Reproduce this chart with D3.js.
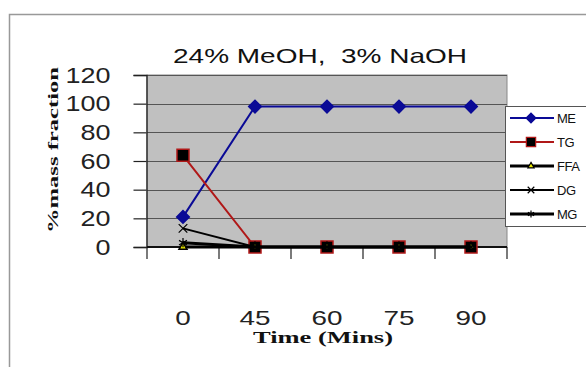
<!DOCTYPE html>
<html><head><meta charset="utf-8">
<script src="https://cdn.jsdelivr.net/npm/d3@7"></script>
<style>body{margin:0;background:#fff}svg{display:block}</style>
</head><body>
<svg id="c" width="586" height="367"></svg>
<script>
const categories = ["0", "45", "60", "75", "90"];
const yTicks = [0, 20, 40, 60, 80, 100, 120];
const seriesNames = ["ME", "TG", "FFA", "DG", "MG"];
const ME  = [21, 98, 98, 98, 98];
const TG  = [64, 0, 0, 0, 0];
const FFA = [0, 0, 0, 0, 0];
const DG  = [13, 0, 0, 0, 0];
const MG  = [3, 0, 0, 0, 0];
const titleText = "24% MeOH,  3% NaOH";
const xTitle = "Time (Mins)";
const yTitle = "%mass fraction";

const svg = d3.select("#c");
const L = 147, R = 507, T = 75, B = 247;
const x = d3.scaleBand().domain(categories).range([L, R]).padding(0);
const y = d3.scaleLinear().domain([0, 120]).range([B, T]);
const cx = c => x(c) + x.bandwidth() / 2;

// outer frame
svg.append("rect").attr("x", 9.5).attr("y", 14.5).attr("width", 620).attr("height", 400)
  .attr("fill", "#fff").attr("stroke", "#999").attr("stroke-width", 1.5);

// plot area
svg.append("rect").attr("x", L).attr("y", T).attr("width", R - L).attr("height", B - T)
  .attr("fill", "#c0c0c0").attr("stroke", "#888").attr("stroke-width", 1);

// gridlines
svg.append("g").selectAll("line").data(yTicks).join("line")
  .attr("x1", L).attr("x2", R).attr("y1", d => Math.round(y(d)) + 0.5).attr("y2", d => Math.round(y(d)) + 0.5)
  .attr("stroke", "#555").attr("stroke-width", 1);

// y axis
const ya = svg.append("g").attr("transform", `translate(${L - 0.5},0)`)
  .call(d3.axisLeft(y).tickValues(yTicks).tickSize(13).tickPadding(23).tickFormat(d3.format("d")));
ya.select(".domain").attr("stroke", "#222").attr("stroke-width", 1.3);
ya.selectAll(".tick line").attr("stroke", "#222").attr("stroke-width", 1.2);
ya.selectAll(".tick text").attr("font-family", "Liberation Sans, Arial, sans-serif")
  .attr("font-size", 22).attr("fill", "#222")
  .attr("textLength", d => String(d).length * 15).attr("lengthAdjust", "spacingAndGlyphs");

// x axis: labels at centers, ticks at boundaries
const xa = svg.append("g").attr("transform", `translate(0,${B})`)
  .call(d3.axisBottom(x).tickSize(0).tickPadding(63));
xa.select(".domain").remove();
xa.selectAll(".tick text").attr("font-family", "Liberation Sans, Arial, sans-serif")
  .attr("font-size", 21).attr("fill", "#222")
  .attr("textLength", d => d.length * 15.5).attr("lengthAdjust", "spacingAndGlyphs");
const bounds = categories.map(c => x(c)).concat([x.range()[1]]);
svg.append("g").selectAll("line").data(bounds).join("line")
  .attr("x1", d => d).attr("x2", d => d).attr("y1", B).attr("y2", B + 12)
  .attr("stroke", "#222").attr("stroke-width", 1.2);
svg.append("line").attr("x1", L).attr("x2", R).attr("y1", B).attr("y2", B)
  .attr("stroke", "#111").attr("stroke-width", 2);

// series
const series = [
  { name: "ME",  vals: ME,  color: "#0a0a96", width: 2,   sym: "diamond", fill: "#0a0a96", stroke: "#0a0a96", size: 80 },
  { name: "TG",  vals: TG,  color: "#b01818", width: 2,   sym: "square",  fill: "#000",    stroke: "#b01818", size: 144 },
  { name: "FFA", vals: FFA, color: "#000",    width: 3,   sym: "triangle",fill: "#e8e800", stroke: "#000", size: 28 },
  { name: "DG",  vals: DG,  color: "#000",    width: 2,   sym: "times",   fill: "none",    stroke: "#000", size: 50 },
  { name: "MG",  vals: MG,  color: "#000",    width: 3,   sym: "asterisk",fill: "none",    stroke: "#000", size: 60 }
];
function symPath(s) {
  const t = { diamond: d3.symbolSquare, square: d3.symbolSquare, triangle: d3.symbolTriangle,
    times: d3.symbolTimes || d3.symbolX || d3.symbolCross, asterisk: d3.symbolAsterisk || d3.symbolCross }[s.sym];
  return d3.symbol().type(t).size(s.size)();
}
const line = d3.line().x(d => cx(d.c)).y(d => y(d.v));
series.forEach(s => {
  const pts = categories.map((c, i) => ({ c, v: s.vals[i] }));
  const g = svg.append("g");
  g.append("path").attr("d", line(pts)).attr("fill", "none").attr("stroke", s.color).attr("stroke-width", s.width);
  g.selectAll("path.m").data(pts).join("path").attr("class", "m")
    .attr("d", symPath(s))
    .attr("transform", d => `translate(${cx(d.c)},${y(d.v)})${s.sym === "diamond" ? " rotate(45)" : ""}`)
    .attr("fill", s.fill).attr("stroke", s.stroke).attr("stroke-width", s.sym === "times" || s.sym === "asterisk" ? 1.2 : 1.5);
});

// legend
const lg = svg.append("g");
lg.append("rect").attr("x", 505.5).attr("y", 106.5).attr("width", 100).attr("height", 120)
  .attr("fill", "#fff").attr("stroke", "#555").attr("stroke-width", 1);
series.forEach((s, i) => {
  const ly = 118 + i * 24;
  lg.append("line").attr("x1", 510).attr("x2", 554).attr("y1", ly).attr("y2", ly)
    .attr("stroke", s.color).attr("stroke-width", s.width);
  lg.append("path").attr("d", symPath({ ...s, size: s.size * 0.6 }))
    .attr("transform", `translate(531,${ly})${s.sym === "diamond" ? " rotate(45)" : ""}`)
    .attr("fill", s.fill).attr("stroke", s.stroke).attr("stroke-width", 1.2);
  lg.append("text").attr("x", 557).attr("y", ly).attr("dy", "0.36em")
    .attr("font-family", "Liberation Sans, Arial, sans-serif").attr("font-size", 13).attr("fill", "#111")
    .attr("letter-spacing", -0.5)
    .text(s.name);
});

// titles
svg.append("text").attr("x", 320).attr("y", 63).attr("text-anchor", "middle")
  .style("white-space", "pre").attr("xml:space", "preserve")
  .attr("font-family", "Liberation Sans, Arial, sans-serif").attr("font-size", 21).attr("fill", "#111")
  .attr("textLength", 294).attr("lengthAdjust", "spacingAndGlyphs").text(titleText);
svg.append("text").attr("x", 323).attr("y", 343).attr("text-anchor", "middle")
  .attr("font-family", "Liberation Serif, Times New Roman, serif").attr("font-weight", "bold")
  .attr("font-size", 16).attr("fill", "#111")
  .attr("textLength", 140).attr("lengthAdjust", "spacingAndGlyphs").text(xTitle);
svg.append("text").attr("transform", "translate(58,150) rotate(-90)").attr("text-anchor", "middle")
  .attr("font-family", "Liberation Serif, Times New Roman, serif").attr("font-weight", "bold")
  .attr("font-size", 15).attr("fill", "#111")
  .attr("textLength", 166).attr("lengthAdjust", "spacingAndGlyphs").text(yTitle);
</script>
</body></html>
